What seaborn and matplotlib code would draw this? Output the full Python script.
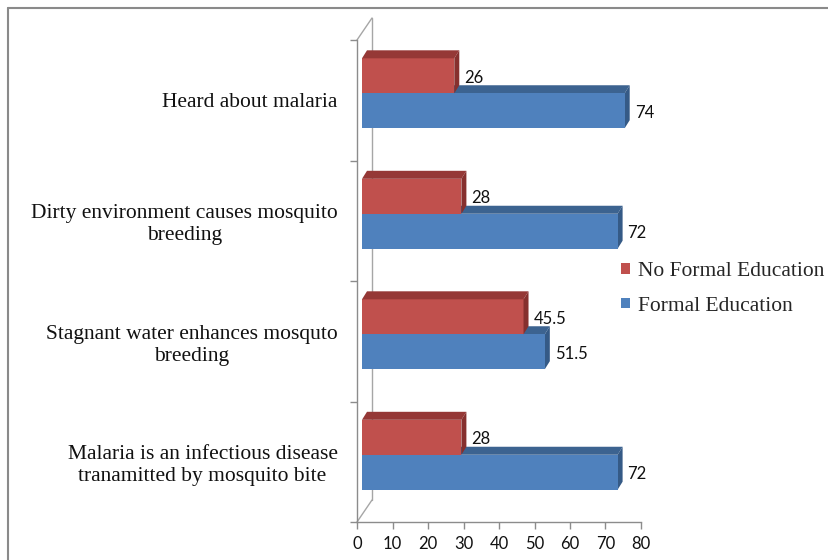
import matplotlib
matplotlib.use("Agg")
import matplotlib.pyplot as plt
from matplotlib.patches import Polygon, Rectangle
from matplotlib.lines import Line2D
from matplotlib.transforms import ScaledTranslation
import pandas as pd
import seaborn as sns

# ---- data -----------------------------------------------------------------
categories = [
    "Heard about malaria",
    "Dirty environment causes mosquito\nbreeding",
    "Stagnant water enhances mosquto\nbreeding",
    "Malaria is an infectious disease\ntranamitted by mosquito bite",
]
series = ["No Formal Education", "Formal Education"]
no_formal = [26, 28, 45.5, 28]
formal = [74, 72, 51.5, 72]
x_ticks = [0, 10, 20, 30, 40, 50, 60, 70, 80]

df = pd.DataFrame({
    "Statement": categories * 2,
    "Percent": no_formal + formal,
    "Group": [series[0]] * len(categories) + [series[1]] * len(categories),
})

# ---- style ------------------------------------------------------------------
sns.set_style("white")
plt.rcParams["font.family"] = ["Liberation Serif", "DejaVu Serif"]

front = {series[0]: "#C0504D", series[1]: "#4F81BD"}
top_col = {series[0]: "#953836", series[1]: "#3C6390"}
side_col = {series[0]: "#86302E", series[1]: "#355A86"}
axis_gray = "#8C8C8C"
num_font = ["Lato", "DejaVu Sans"]
serif_size = 15.5
num_size = 12

W, H, DPI = 829, 560, 100
fig = plt.figure(figsize=(W / DPI, H / DPI), dpi=DPI)

# front plane of the plot area (pixels: x 357..641, y 40..522)
ax = fig.add_axes([357 / W, (H - 522) / H, 284 / W, 482 / H])

sns.barplot(data=df, y="Statement", x="Percent", hue="Group",
            order=categories, hue_order=series, palette=front,
            orient="h", width=0.58, saturation=1, linewidth=0,
            legend=False, ax=ax)

ax.set_xlim(0, 80)
ax.set_ylim(len(categories) - 0.5, -0.5)

# pixel -> data conversion for the perspective offsets
px_x = 80 / ax.bbox.width
px_y = len(categories) / ax.bbox.height

# bars sit slightly behind the front plane
plane = ax.transData + ScaledTranslation(5 / DPI, 7 / DPI, fig.dpi_scale_trans)
dx, dy = 5 * px_x, -8 * px_y  # depth of each bar

zorders = {series[0]: (3.0, 3.1, 3.1), series[1]: (2.5, 1.5, 1.5)}
for group, container in zip(series, ax.containers):
    zf, zt, zs = zorders[group]
    for bar in container:
        bar.set_transform(plane)
        bar.set_zorder(zf)
        x0, y0 = bar.get_x(), bar.get_y()
        w, h = bar.get_width(), bar.get_height()
        top = Polygon([(x0, y0), (x0 + w, y0), (x0 + w + dx, y0 + dy),
                       (x0 + dx, y0 + dy)], closed=True,
                      facecolor=top_col[group], edgecolor="none",
                      transform=plane, zorder=zt, clip_on=False)
        side = Polygon([(x0 + w, y0), (x0 + w, y0 + h),
                        (x0 + w + dx, y0 + h + dy), (x0 + w + dx, y0 + dy)],
                       closed=True, facecolor=side_col[group],
                       edgecolor="none", transform=plane, zorder=zs,
                       clip_on=False)
        ax.add_patch(top)
        ax.add_patch(side)
        ax.text(x0 + w, y0 + h / 2, f"{w:g}",
                transform=plane + ScaledTranslation(10 / DPI, -2 / DPI,
                                                    fig.dpi_scale_trans),
                ha="left", va="center", fontsize=num_size, family=num_font,
                color="#111111", zorder=4, clip_on=False)

# back wall edge and the connecting diagonals
wx, wy = 15 * px_x, -22 * px_y
y_lo, y_hi = len(categories) - 0.5, -0.5
for seg in ([(0, y_hi), (wx, y_hi + wy)],
            [(0, y_lo), (wx, y_lo + wy)],
            [(wx, y_hi + wy), (wx, y_lo + wy)]):
    (xa, ya), (xb, yb) = seg
    ax.add_line(Line2D([xa, xb], [ya, yb], color="#A6A6A6", lw=1.0,
                       zorder=0.5, clip_on=False))

# axes styling
for s in ("top", "right"):
    ax.spines[s].set_visible(False)
for s in ("left", "bottom"):
    ax.spines[s].set_color(axis_gray)
    ax.spines[s].set_linewidth(1.0)

ax.set_xticks(x_ticks)
ax.set_xticklabels([str(t) for t in x_ticks], family=num_font,
                   fontsize=num_size, color="#111111")
ax.tick_params(axis="x", direction="out", length=5, width=1.0,
               color=axis_gray, pad=5, bottom=True)

ax.set_yticks(range(len(categories)))
ax.set_yticklabels(categories, fontsize=serif_size, color="#111111",
                   multialignment="center")
ax.set_yticks([i - 0.5 for i in range(len(categories) + 1)], minor=True)
ax.tick_params(axis="y", which="major", length=0, pad=14, left=True)
ax.tick_params(axis="y", which="minor", direction="out", length=5,
               width=1.0, color=axis_gray, left=True)
ax.set_xlabel("")
ax.set_ylabel("")

# legend
handles = [Rectangle((0, 0), 1, 1, facecolor=front[g], edgecolor="none")
           for g in series]
fig.legend(handles, series, loc="center left",
           bbox_to_anchor=(621 / W, 1 - 289 / H), frameon=False,
           fontsize=serif_size, handlelength=0.4, handleheight=0.4,
           handletextpad=0.38, labelspacing=0.72, borderpad=0,
           borderaxespad=0)

# outer chart border (left and top edges visible)
fig.add_artist(Line2D([8 / W, 8 / W], [0, 1 - 8 / H], color="#8A8A8A",
                      lw=1.5, transform=fig.transFigure))
fig.add_artist(Line2D([8 / W, 1], [1 - 8 / H, 1 - 8 / H], color="#8A8A8A",
                      lw=1.5, transform=fig.transFigure))

fig.savefig("out.png", dpi=DPI, facecolor="white")
